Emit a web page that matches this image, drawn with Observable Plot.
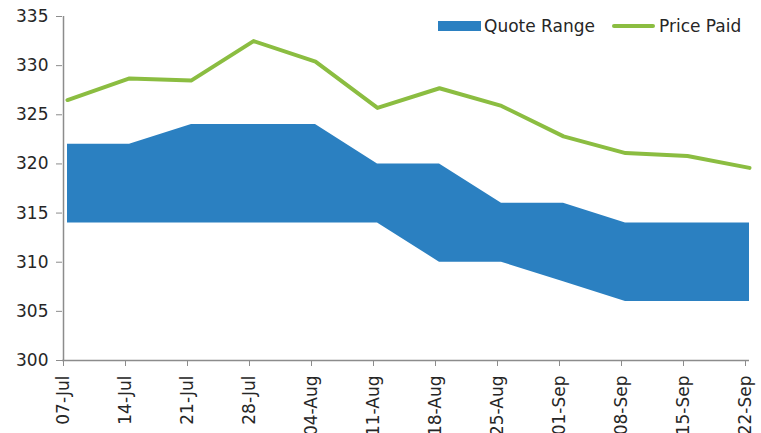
<!DOCTYPE html>
<html>
<head>
<meta charset="utf-8">
<script src="https://cdn.jsdelivr.net/npm/d3@7"></script>
<script src="https://cdn.jsdelivr.net/npm/@observablehq/plot@0.6"></script>
<style>
  html, body { margin: 0; padding: 0; background: #fff; }
  #wrap { position: relative; width: 761px; height: 433px; font-family: "DejaVu Sans", sans-serif; }
  .leg { position: absolute; font-size: 17px; color: #262626; line-height: 1; white-space: nowrap; }
  .sw { position: absolute; }
</style>
</head>
<body>
<div id="wrap"></div>
<script>
// Data
const weeks = ["07-Jul","14-Jul","21-Jul","28-Jul","04-Aug","11-Aug","18-Aug","25-Aug","01-Sep","08-Sep","15-Sep","22-Sep"];
const quoteLow  = [314, 314, 314, 314, 314, 314, 310, 310, 308, 306, 306, 306];
const quoteHigh = [322, 322, 324, 324, 324, 320, 320, 316, 316, 314, 314, 314];
const pricePaid = [326.5, 328.7, 328.5, 332.5, 330.4, 325.7, 327.7, 325.9, 322.8, 321.1, 320.8, 319.6];
const yTicks = [300, 305, 310, 315, 320, 325, 330, 335];

const blue = "#2b80c1";
const green = "#8bbd41";
const axisGray = "#8c8c8c";

const data = weeks.map((w, i) => ({week: w, low: quoteLow[i], high: quoteHigh[i], paid: pricePaid[i]}));

const chart = Plot.plot({
  width: 761,
  height: 433,
  marginLeft: 62,
  marginRight: 12,
  marginTop: 16,
  marginBottom: 73,
  style: {fontFamily: "DejaVu Sans, sans-serif", fontSize: "17px", color: "#262626", background: "#fff"},
  x: {type: "point", domain: weeks, range: [62, 746], padding: 0},
  y: {domain: [300, 335]},
  marks: [
    Plot.areaY(data, {x: "week", y1: "low", y2: "high", fill: blue, dx: 4}),
    Plot.lineY(data, {x: "week", y: "paid", stroke: green, strokeWidth: 4, dx: 4, strokeLinejoin: "round", strokeLinecap: "round"}),
    Plot.ruleX([weeks[0]], {stroke: axisGray, strokeWidth: 1.5}),
    Plot.ruleY([300], {stroke: axisGray, strokeWidth: 1.5}),
    Plot.axisY({ticks: yTicks, tickSize: 6, tickPadding: 8, stroke: axisGray, label: null, fill: "#262626"}),
    Plot.axisX({ticks: weeks, tickSize: 6, tickPadding: 9, tickRotate: -90, stroke: axisGray, label: null, fill: "#262626"})
  ]
});

const wrap = document.getElementById("wrap");
wrap.appendChild(chart);

// In-chart legend (top right)
function addLegend() {
  const items = [
    {label: "Quote Range", type: "rect", sx: 438, tx: 484},
    {label: "Price Paid", type: "line", sx: 612, tx: 659}
  ];
  items.forEach(it => {
    const sw = document.createElement("div");
    sw.className = "sw";
    if (it.type === "rect") {
      Object.assign(sw.style, {left: it.sx + "px", top: "21px", width: "43px", height: "10px", background: blue});
    } else {
      Object.assign(sw.style, {left: it.sx + "px", top: "24px", width: "43px", height: "4px", background: green, borderRadius: "2px"});
    }
    wrap.appendChild(sw);
    const t = document.createElement("div");
    t.className = "leg";
    t.textContent = it.label;
    Object.assign(t.style, {left: it.tx + "px", top: "18px"});
    wrap.appendChild(t);
  });
}
addLegend();
</script>
</body>
</html>
